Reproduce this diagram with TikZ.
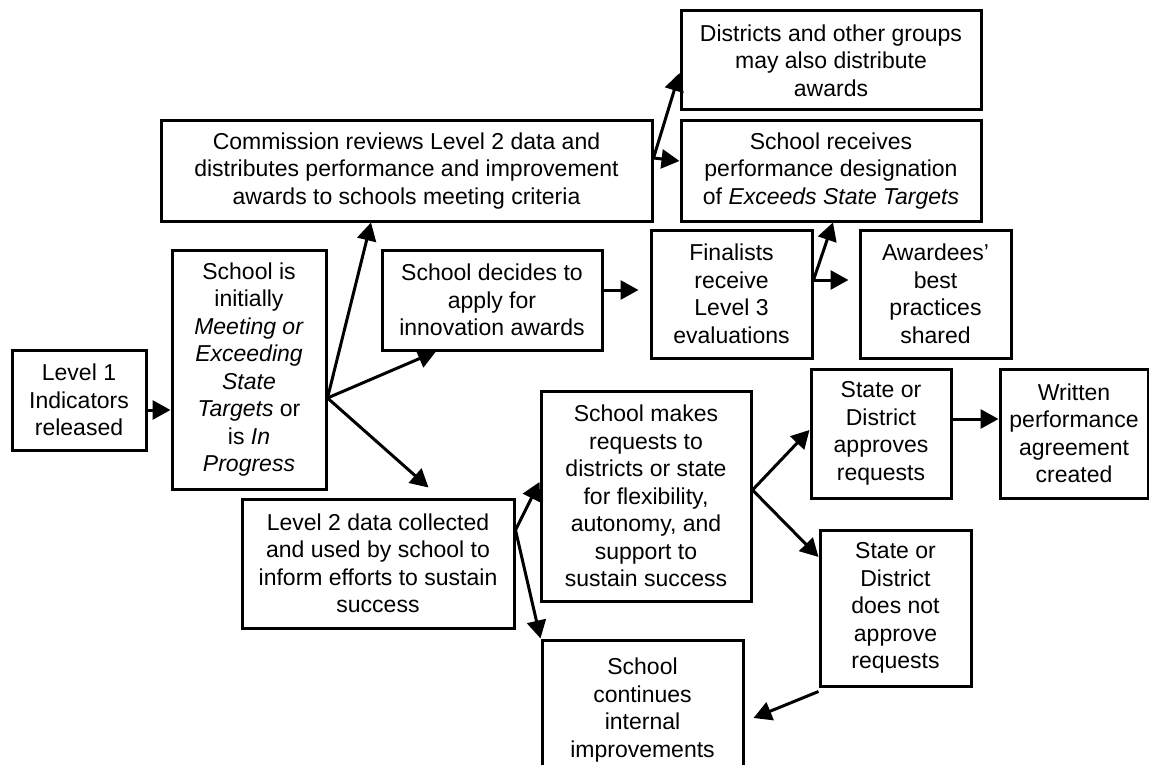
\documentclass[tikz,border=0pt]{standalone}
\usepackage{fontspec}
\setmainfont{Liberation Sans}
\usetikzlibrary{arrows.meta}

\begin{document}
\begin{tikzpicture}[x=1pt, y=-1pt,
  box/.style={draw, line width=3pt, align=center, inner sep=0pt,
    font=\fontsize{23}{27.5}\selectfont},
  arr/.style={line width=3pt, -{Triangle[length=18pt,width=19pt]}}]
  \clip (0,0) rectangle (1149,765);
  % boxes
  \node[box, minimum width=134pt, minimum height=100pt] (lvl1) at (79,400)
    {Level 1\\Indicators\\released};
  \node[box, minimum width=154pt, minimum height=239pt] (initially) at (249,369.5)
    {School is\\initially\\\textit{Meeting or}\\\textit{Exceeding}\\\textit{State}\\\textit{Targets} or\\is \textit{In}\\\textit{Progress}};
  \node[box, minimum width=491pt, minimum height=100pt] (commission) at (406.5,171)
    {Commission reviews Level 2 data and\\distributes performance and improvement\\awards to schools meeting criteria};
  \node[box, minimum width=220pt, minimum height=100pt] (decides) at (492,300)
    {School decides to\\apply for\\innovation awards};
  \node[box, minimum width=300pt, minimum height=99pt] (districts) at (831,60.5)
    {Districts and other groups\\may also distribute\\awards};
  \node[box, minimum width=300pt, minimum height=100pt] (receives) at (831,171)
    {School receives\\performance designation\\of \textit{Exceeds State Targets}};
  \node[box, minimum width=161pt, minimum height=128pt] (finalists) at (731.5,294)
    {Finalists\\receive\\Level 3\\evaluations};
  \node[box, minimum width=151pt, minimum height=128pt] (awardees) at (935.5,294)
    {Awardees'\\best\\practices\\shared};
  \node[box, minimum width=272pt, minimum height=129pt] (level2) at (378,563.5)
    {Level 2 data collected\\and used by school to\\inform efforts to sustain\\success};
  \node[box, minimum width=210pt, minimum height=210pt] (makes) at (646,496)
    {School makes\\requests to\\districts or state\\for flexibility,\\autonomy, and\\support to\\sustain success};
  \node[box, minimum width=140pt, minimum height=129pt] (approves) at (881,433.5)
    {State or\\District\\approves\\requests};
  \node[box, minimum width=148pt, minimum height=129pt] (written) at (1074,433.5)
    {Written\\performance\\agreement\\created};
  \node[box, minimum width=151pt, minimum height=156pt] (doesnot) at (895.5,608)
    {State or\\District\\does not\\approve\\requests};
  \node[box, minimum width=201pt, minimum height=140pt] (continues) at (642.5,710)
    {School\\continues\\internal\\improvements};
  % branch points
  \coordinate (fork1) at ([yshift=-28.5pt]initially.east);
  \coordinate (fork2) at ([yshift=13pt]commission.east);
  \coordinate (fork3) at ([yshift=14pt]finalists.east);
  \coordinate (fork4) at ([yshift=33.5pt]level2.east);
  \coordinate (fork5) at ([yshift=6pt]makes.east);
  % arrows
  \draw[arr] ([yshift=-10pt]lvl1.east) -- ([yshift=-40.5pt]initially.west);
  \draw[arr] (fork1) -- ([xshift=-35.5pt]commission.south);
  \draw[arr] (fork1) -- ([xshift=-56pt]decides.south);
  \draw[arr] (fork1) -- ([xshift=50.5pt,yshift=10pt]level2.north);
  \draw[arr] (fork2) -- ([yshift=-12.5pt]districts.west);
  \draw[arr] (fork2) -- ([yshift=10pt]receives.west);
  \draw[arr] ([yshift=10pt]decides.east) -- ([xshift=-11pt,yshift=4pt]finalists.west);
  \draw[arr] (fork3) -- ([xshift=2pt]receives.south);
  \draw[arr] (fork3) -- ([xshift=-10pt,yshift=14pt]awardees.west);
  \draw[arr] (fork4) -- ([yshift=14pt]makes.west);
  \draw[arr] (fork4) -- (continues.north west);
  \draw[arr] (fork5) -- ([yshift=3.5pt]approves.west);
  \draw[arr] (fork5) -- ([yshift=51pt]doesnot.west);
  \draw[arr] ([yshift=14.5pt]approves.east) -- ([yshift=14.5pt]written.west);
  \draw[arr] ([yshift=-4pt]doesnot.south west) -- ([xshift=9pt,yshift=-8pt]continues.east);
\end{tikzpicture}
\end{document}
